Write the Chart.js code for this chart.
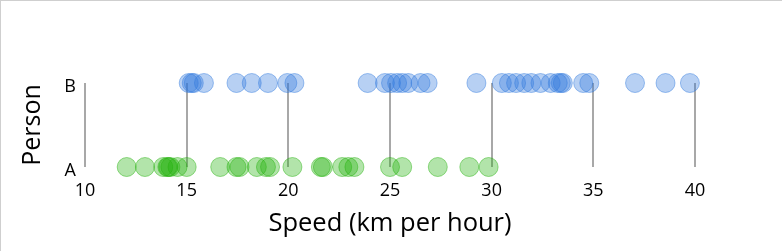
<!DOCTYPE html>
<html>
<head>
<meta charset="utf-8">
<script src="https://cdn.jsdelivr.net/npm/chart.js@4"></script>
<style>
  html, body { margin: 0; padding: 0; background: #fff; }
  #wrap { position: relative; width: 782px; height: 251px; }
  #frame { position: absolute; left: 0; top: 0; width: 782px; height: 251px; box-sizing: border-box;
           border-top: 1px solid #cfcfcf; border-left: 1px solid #cfcfcf; pointer-events: none; }
</style>
</head>
<body>
<div id="wrap">
  <canvas id="c" width="782" height="251"></canvas>
  <div id="frame"></div>
</div>
<script>
const personLabels = ['B', 'A'];
const xTicks = [10, 15, 20, 25, 30, 35, 40];
const speedsA = [12.05, 12.95, 13.85, 14.05, 14.1, 14.2, 14.55, 15.0, 16.65, 17.45, 17.6, 18.45, 18.9, 19.1, 20.2,
                 21.6, 21.7, 22.65, 22.95, 23.25, 25.0, 25.6, 27.35, 28.9, 29.85];
const speedsB = [15.1, 15.25, 15.35, 15.85, 17.45, 18.2, 19.0, 19.95, 20.3, 23.9, 24.75, 25.05, 25.35, 25.6, 25.9,
                 26.5, 26.85, 29.25, 30.5, 30.85, 31.2, 31.6, 31.95, 32.4, 32.9, 33.25, 33.4, 33.5, 34.5, 34.8,
                 37.05, 38.55, 39.75];

const FONT = "'Open Sans', 'Noto Sans', sans-serif";

new Chart(document.getElementById('c'), {
  type: 'scatter',
  data: {
    datasets: [
      {
        label: 'A',
        data: speedsA.map(v => ({ x: v, y: 'A' })),
        backgroundColor: 'rgba(35,178,12,0.35)',
        borderColor: 'rgba(35,178,12,0.45)',
        borderWidth: 1,
        pointRadius: 9.5,
        clip: false
      },
      {
        label: 'B',
        data: speedsB.map(v => ({ x: v, y: 'B' })),
        backgroundColor: 'rgba(49,121,221,0.35)',
        borderColor: 'rgba(49,121,221,0.45)',
        borderWidth: 1,
        pointRadius: 9.5,
        clip: false
      }
    ]
  },
  options: {
    responsive: false,
    animation: false,
    devicePixelRatio: 1,
    layout: { padding: { top: 83, right: 87, bottom: 0, left: 0 } },
    plugins: { legend: { display: false }, tooltip: { enabled: false } },
    scales: {
      x: {
        type: 'linear',
        min: 10, max: 40,
        afterBuildTicks: s => { s.ticks = xTicks.map(v => ({ value: v })); },
        afterFit: s => { s.height = 84; },
        border: { display: false },
        grid: { color: '#a8a8a8', lineWidth: 2, drawTicks: false },
        ticks: { color: '#000', font: { family: FONT, size: 18 }, padding: 13 },
        title: { display: true, text: 'Speed (km per hour)', color: '#000',
                 font: { family: FONT, size: 25.5 }, padding: { top: 0, bottom: 12 } }
      },
      y: {
        type: 'category',
        labels: personLabels,
        offset: false,
        afterFit: s => { s.width = 85; },
        border: { display: false },
        grid: { display: false, drawTicks: false },
        ticks: { color: '#000', font: { family: FONT, size: 18 }, padding: 9, labelOffset: 4 },
        title: { display: true, text: 'Person', color: '#000',
                 font: { family: FONT, size: 25 }, padding: { top: 18, bottom: 0 } }
      }
    }
  }
});
</script>
</body>
</html>
